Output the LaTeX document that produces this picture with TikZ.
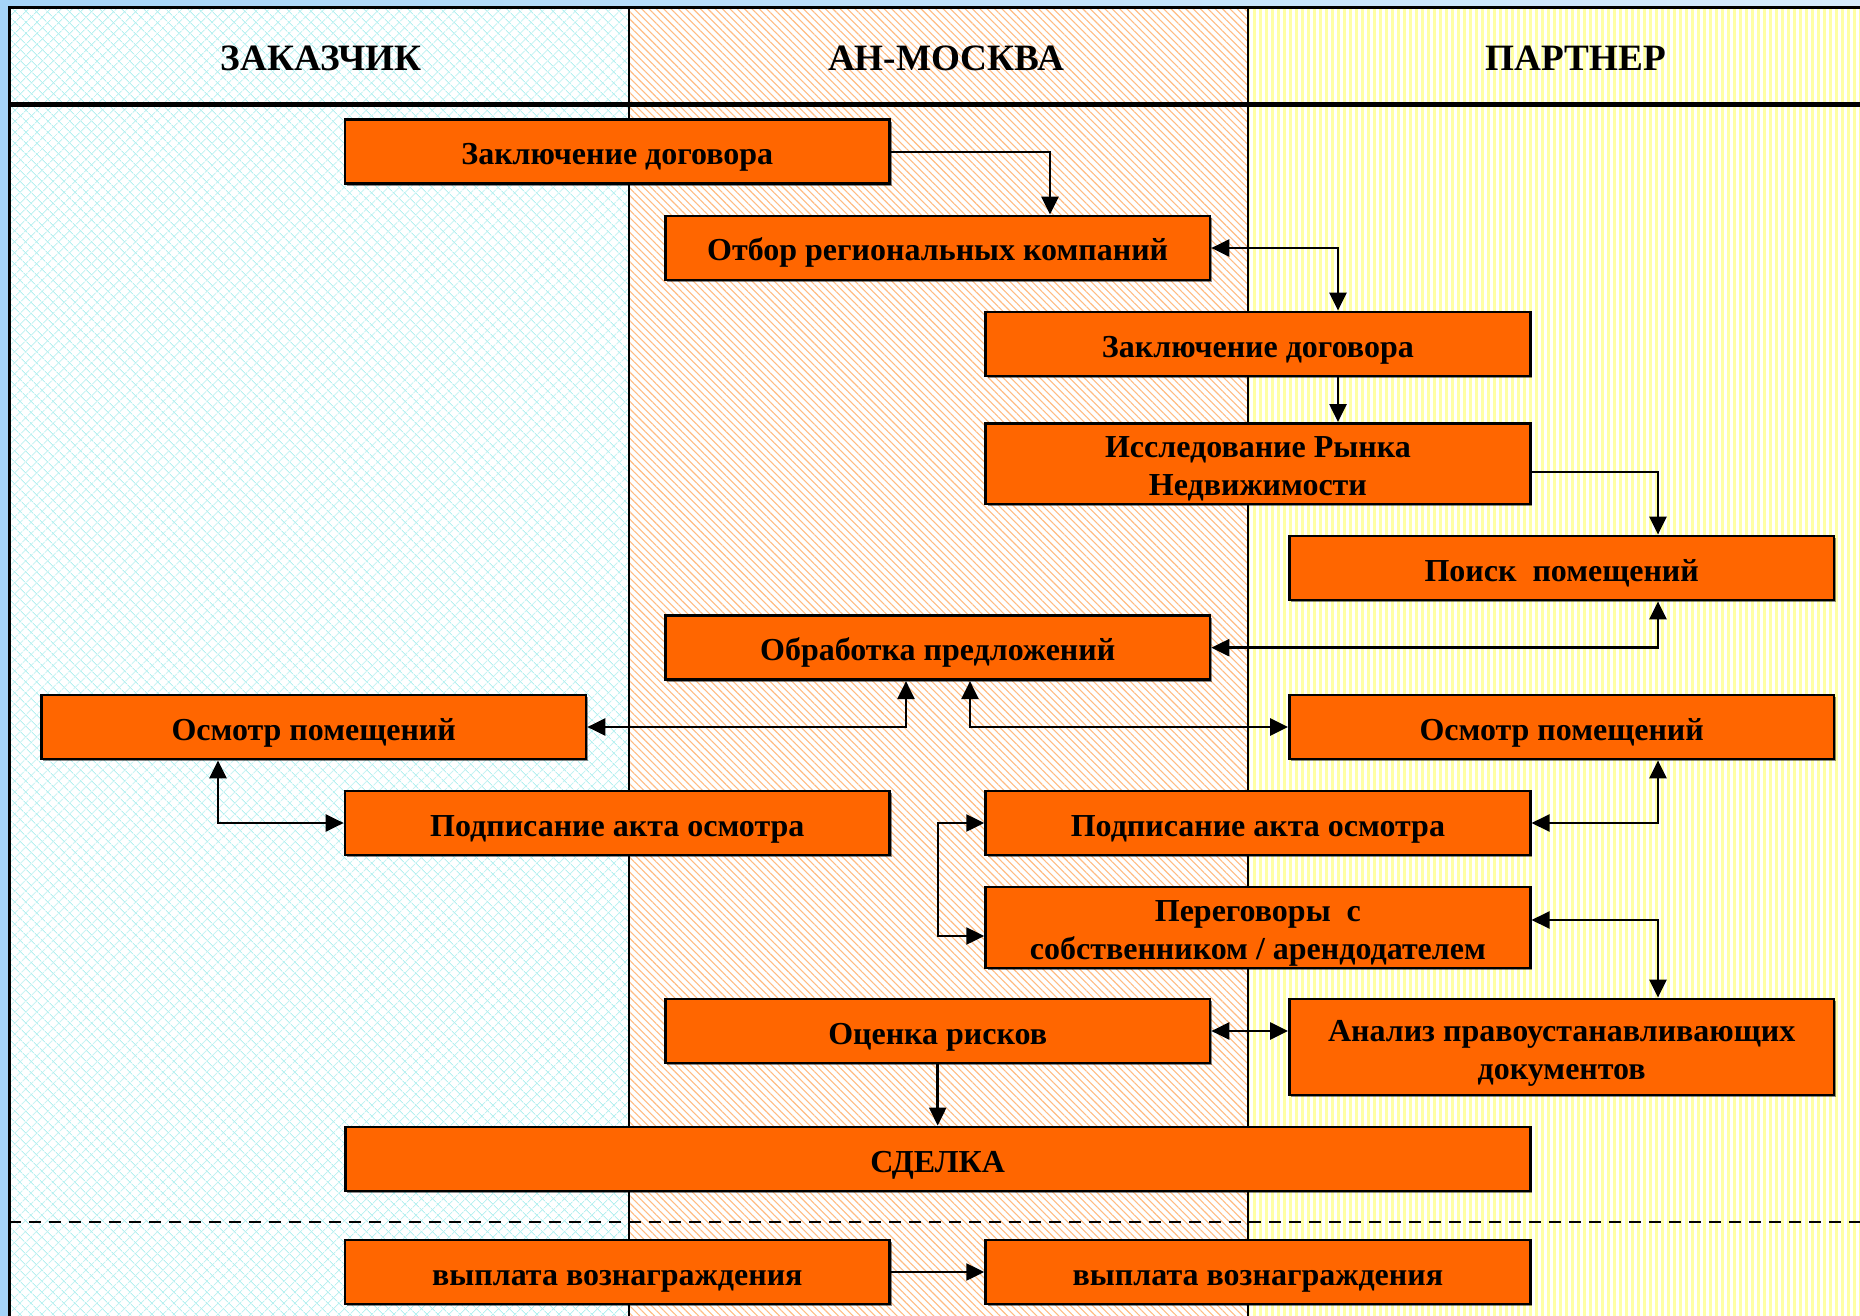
\documentclass[tikz,border=0pt]{standalone}
\usepackage{fontspec}
\setmainfont{Liberation Serif}
\usetikzlibrary{patterns.meta,arrows.meta,shadows}
\definecolor{boxorange}{RGB}{255,102,0}
\definecolor{laneacyan}{RGB}{180,240,240}
\definecolor{lanebpeach}{RGB}{255,188,130}
\definecolor{lanecyellow}{RGB}{255,255,165}
\definecolor{outerblueL}{RGB}{165,212,248}
\definecolor{outerblueR}{RGB}{215,236,252}
\newcommand{\boxtxt}[1]{\raisebox{-2.7pt}[\height][\depth]{\begin{tabular}{@{}c@{}}#1\end{tabular}}}
\begin{document}
\begin{tikzpicture}[x=0.5pt,y=-0.5pt,
  procbox/.style={draw=black, line width=1.4pt, fill=boxorange,
    minimum width=272.25pt, minimum height=32pt, inner sep=0pt,
    font=\fontsize{16}{19}\selectfont\bfseries,
    drop shadow={shadow xshift=1pt,shadow yshift=-1pt,fill=black,opacity=0.45}},
  lanehead/.style={font=\fontsize{18.6}{22}\selectfont\bfseries},
  arr/.style={draw=black, line width=1.25pt, -{Triangle[length=9pt,width=8.5pt]}},
  arrb/.style={draw=black, line width=1.25pt, {Triangle[length=9pt,width=8.5pt]}-{Triangle[length=9pt,width=8.5pt]}}
]
\useasboundingbox (0,0) rectangle (1860,1316);
% outer background
\shade[left color=outerblueL, right color=outerblueR] (0,0) rectangle (1860,1316);
% lanes
\fill[white] (9,7.5) rectangle (1860,1316);
\fill[pattern={Lines[angle=45,distance=4pt,line width=0.45pt]}, pattern color=laneacyan] (9,7.5) rectangle (628.7,1316);
\fill[pattern={Lines[angle=-45,distance=4pt,line width=0.45pt]}, pattern color=laneacyan] (9,7.5) rectangle (628.7,1316);
\fill[pattern={Lines[angle=-45,distance=2.6pt,line width=0.55pt]}, pattern color=lanebpeach] (628.7,7.5) rectangle (1248,1316);
\fill[pattern={Lines[angle=90,distance=3pt,line width=1.5pt]}, pattern color=lanecyellow] (1248,7.5) rectangle (1860,1316);
% lane dividers and frame
\draw[line width=0.8pt] (628.7,7.5) -- (628.7,1316);
\draw[line width=0.8pt] (1248,7.5) -- (1248,1316);
\draw[line width=1.5pt] (9,1316) -- (9,7.5) -- (1860,7.5);
\draw[line width=2.8pt] (9,104.5) -- (1860,104.5);
\draw[line width=1.2pt, dash pattern=on 6pt off 4pt] (9,1222) -- (1860,1222);
% headers
\node[lanehead] (h1) at (321,58) {ЗАКАЗЧИК};
\node[lanehead] (h2) at (946,58) {АН-МОСКВА};
\node[lanehead] (h3) at (1576,58) {ПАРТНЕР};
% boxes
\node[procbox] (b1) at (617.3,151.9) {\boxtxt{Заключение договора}};
\node[procbox] (b2) at (937.7,248) {\boxtxt{Отбор региональных компаний}};
\node[procbox] (b3) at (1257.9,344) {\boxtxt{Заключение договора}};
\node[procbox, minimum height=40.25pt] (b4) at (1257.9,463.7) {\boxtxt{Исследование Рынка\\Недвижимости}};
\node[procbox] (b5) at (1561.7,568) {\boxtxt{Поиск~ помещений}};
\node[procbox] (b6) at (937.7,647.7) {\boxtxt{Обработка предложений}};
\node[procbox] (b7) at (313.7,727) {\boxtxt{Осмотр помещений}};
\node[procbox] (b8) at (1561.7,727) {\boxtxt{Осмотр помещений}};
\node[procbox] (b9) at (617.3,823) {\boxtxt{Подписание акта осмотра}};
\node[procbox] (b10) at (1257.9,823) {\boxtxt{Подписание акта осмотра}};
\node[procbox, minimum height=40.5pt] (b11) at (1257.9,927.5) {\boxtxt{Переговоры~ с\\собственником / арендодателем}};
\node[procbox] (b12) at (937.7,1031) {\boxtxt{Оценка рисков}};
\node[procbox, minimum height=48pt] (b13) at (1561.7,1047) {\boxtxt{Анализ правоустанавливающих\\документов}};
\node[procbox, minimum width=592.5pt] (b14) at (937.7,1159) {\boxtxt{СДЕЛКА}};
\node[procbox] (b15) at (617.3,1272) {\boxtxt{выплата вознаграждения}};
\node[procbox] (b16) at (1257.9,1272) {\boxtxt{выплата вознаграждения}};
% routing columns
\coordinate (xa) at (1050,0);
\coordinate (xb) at (1338,0);
\coordinate (xd) at (1658,0);
\coordinate (xf) at (906,0);
\coordinate (xg) at (970,0);
\coordinate (xh) at (218,0);
\coordinate (xj) at (938,0);
\coordinate (yd) at (0,472);
\coordinate (yj) at (0,936);
\coordinate (yk) at (0,920);
% connectors
\draw[arr] (b1.east) -| (xa |- b2.north);
\draw[arrb] (b2.east) -| (xb |- b3.north);
\draw[arr] (xb |- b3.south) -- (xb |- b4.north);
\draw[arr] (b4.east |- yd) -| (xd |- b5.north);
\draw[arrb] (xd |- b5.south) |- (b6.east);
\draw[arrb] (xf |- b6.south) |- (b7.east);
\draw[arrb] (xg |- b6.south) |- (b8.west);
\draw[arrb] (xh |- b7.south) |- (b9.west);
\draw[arrb] (xd |- b8.south) |- (b10.east);
\draw[arrb] (b10.west) -| (xj |- yj) -- (b11.west |- yj);
\draw[arrb] (b11.east |- yk) -| (xd |- b13.north);
\draw[arrb] (b12.east) -- (b13.west |- b12.east);
\draw[arr] (b12.south) -- (b12.south |- b14.north);
\draw[arr] (b15.east) -- (b16.west);
\end{tikzpicture}
\end{document}
